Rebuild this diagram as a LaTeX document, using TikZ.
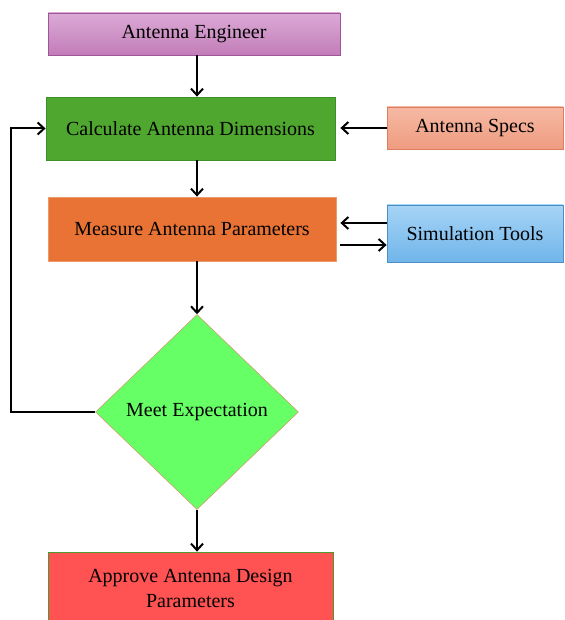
\documentclass[tikz,border=0pt]{standalone}
\usepackage{fontspec}
\setmainfont{Liberation Serif}
\usetikzlibrary{arrows.meta,shapes.geometric,positioning,calc}
\definecolor{engtop}{HTML}{DBAAD6}
\definecolor{engbot}{HTML}{C27DB8}
\definecolor{engline}{HTML}{A0559A}
\definecolor{calcfill}{HTML}{4FA72F}
\definecolor{calcline}{HTML}{3F8F28}
\definecolor{spectop}{HTML}{F6B9A4}
\definecolor{specbot}{HTML}{EE9C80}
\definecolor{specline}{HTML}{DC7D5E}
\definecolor{measfill}{HTML}{E97335}
\definecolor{measline}{HTML}{EC9A6A}
\definecolor{simtop}{HTML}{A6D4F6}
\definecolor{simbot}{HTML}{70B5EA}
\definecolor{simline}{HTML}{4B8FC6}
\definecolor{meetfill}{HTML}{66FF66}
\definecolor{meetline}{HTML}{D8926A}
\definecolor{okfill}{HTML}{FF5252}
\definecolor{okline}{HTML}{4C9A30}

\begin{document}
\begin{tikzpicture}[x=1pt,y=-1pt,
	box/.style={draw,line width=0.8pt,inner sep=0pt,align=center,
		font=\fontsize{20}{25}\selectfont},
	flow/.style={line width=2pt,-{Straight Barb[length=6.5pt,width=12pt]}}]
	\useasboundingbox (0,0) rectangle (564,620);
	% boxes
	\node[box,minimum width=292pt,minimum height=42pt,top color=engtop,bottom color=engbot,draw=engline] (eng) at (194,34) {Antenna Engineer};
	\node[box,minimum width=289pt,minimum height=63pt,fill=calcfill,draw=calcline] (calc) at (190.5,128.5) {Calculate Antenna Dimensions};
	\node[box,minimum width=176pt,minimum height=42pt,top color=spectop,bottom color=specbot,draw=specline] (specs) at (475,128) {Antenna Specs};
	\node[box,minimum width=288pt,minimum height=64pt,fill=measfill,draw=measline] (meas) at (192,229) {Measure Antenna Parameters};
	\node[box,minimum width=176pt,minimum height=57pt,top color=simtop,bottom color=simbot,draw=simline] (sim) at (475,233.5) {Simulation Tools};
	\node[box,shape=diamond,line width=0.5pt,minimum width=203pt,minimum height=195pt,fill=meetfill,draw=meetline] (meet) at (197,412) {Meet Expectation};
	\node[box,minimum width=285pt,minimum height=72pt,fill=okfill,draw=okline] (ok) at (190.5,588) {Approve Antenna Design\\Parameters};
	% arrows
	\draw[flow] (eng.south -| meet.north) -- (calc.north -| meet.north);
	\draw[flow] (calc.south -| meet.north) -- (meas.north -| meet.north);
	\draw[flow] (meas.south -| meet.north) -- (meet.north);
	\draw[flow] (meet.south) -- (ok.north -| meet.south);
	\draw[flow,shorten >=5pt] (specs.west) -- (specs.west -| calc.east);
	\draw[flow,shorten >=4pt] ([yshift=10.5pt]sim.west) -- ([yshift=10.5pt]sim.west -| meas.east);
	\draw[flow,shorten <=4pt] ([yshift=-11.5pt]sim.west -| meas.east) -- ([yshift=-11.5pt]sim.west);
	\draw[flow] (meet.west) -- ++(-84,0) |- (calc.west);
\end{tikzpicture}
\end{document}
